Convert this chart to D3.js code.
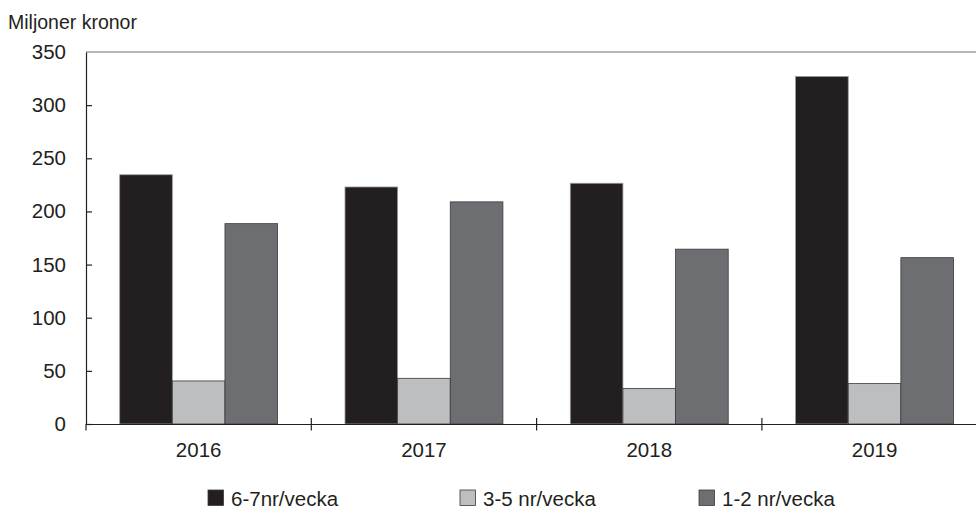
<!DOCTYPE html>
<html>
<head>
<meta charset="utf-8">
<script src="https://cdn.jsdelivr.net/npm/d3@7"></script>
<style>
  html, body { margin: 0; padding: 0; background: #fff; }
  svg { display: block; font-family: "Liberation Sans", Arial, sans-serif; }
</style>
</head>
<body>
<svg id="chart" width="976" height="509"></svg>
<script>
const years = ["2016", "2017", "2018", "2019"];
const seriesNames = ["6-7nr/vecka", "3-5 nr/vecka", "1-2 nr/vecka"];
const s67 = [234.5, 223, 226.5, 327];
const s35 = [40.5, 43, 33.5, 38];
const s12 = [188.5, 209, 164.5, 156.5];
const yTicks = [0, 50, 100, 150, 200, 250, 300, 350];
const colors = ["#231f20", "#bcbec0", "#6d6e71"];
const yTitle = "Miljoner kronor";

(function () {
const seriesValues = [s67, s35, s12];
const data = years.map((yr, i) => ({ year: yr, vals: seriesNames.map((s, j) => ({ key: s, idx: j, v: seriesValues[j][i] })) }));

const svg = d3.select("#chart");
const mLeft = 86, mTop = 52, mBottom = 424, mRight = 987.2;
const ink = "#231f20";

const x = d3.scaleBand().domain(years).range([mLeft, mRight]).paddingInner(0).paddingOuter(0);
const xs = d3.scaleBand().domain(seriesNames).range([0, x.bandwidth()]).paddingInner(0).paddingOuter(0.64);
const y = d3.scaleLinear().domain([0, 350]).range([mBottom, mTop]);

// top border line at 350
svg.append("line")
  .attr("x1", mLeft).attr("x2", 976)
  .attr("y1", y(350)).attr("y2", y(350))
  .attr("stroke", "#6d6e71").attr("stroke-width", 1.2);

// bars
const g = svg.append("g");
g.selectAll("g.grp").data(data).join("g")
  .attr("class", "grp")
  .attr("transform", d => `translate(${x(d.year)},0)`)
  .selectAll("rect").data(d => d.vals).join("rect")
  .attr("x", d => xs(d.key))
  .attr("width", xs.bandwidth())
  .attr("y", d => y(d.v))
  .attr("height", d => y(0) - y(d.v))
  .attr("fill", d => colors[d.idx])
  .attr("stroke", d => d.idx === 0 ? "#9a9a9a" : "#3a3a3c")
  .attr("stroke-width", 0.8);

// y axis
const yAxis = d3.axisLeft(y).tickValues(yTicks).tickSizeInner(-6).tickSizeOuter(0).tickPadding(20);
const ya = svg.append("g").attr("transform", `translate(${mLeft},0)`).call(yAxis);
ya.select(".domain").attr("stroke", ink).attr("stroke-width", 1.2);
ya.selectAll(".tick line").attr("stroke", ink).attr("stroke-width", 1.2);
ya.selectAll(".tick text").attr("font-size", 20.5).attr("fill", ink).attr("font-family", "Liberation Sans, Arial, sans-serif");
ya.selectAll(".tick").filter(d => d === 350).select("line").remove();

// x axis
const xAxis = d3.axisBottom(x).tickSize(0).tickPadding(18);
const xa = svg.append("g").attr("transform", `translate(0,${mBottom})`).call(xAxis);
xa.select(".domain").attr("stroke", ink).attr("stroke-width", 1.2);
xa.selectAll(".tick text").attr("font-size", 20.5).attr("fill", ink).attr("font-family", "Liberation Sans, Arial, sans-serif");

// x boundary ticks
const bounds = years.map(yr => x(yr));
svg.append("g").selectAll("line").data(bounds).join("line")
  .attr("x1", d => d).attr("x2", d => d)
  .attr("y1", (d, i) => i === 0 ? mBottom : mBottom - 6)
  .attr("y2", mBottom + 6.5)
  .attr("stroke", ink).attr("stroke-width", 1.2);

// y title
svg.append("text").attr("x", 8).attr("y", 29).attr("font-size", 19.5).attr("fill", ink).text(yTitle);

// legend
const legendX = [208, 460, 699];
const lg = svg.append("g").selectAll("g").data(seriesNames).join("g")
  .attr("transform", (d, i) => `translate(${legendX[i]},490)`);
lg.append("rect").attr("width", 15.5).attr("height", 15.5)
  .attr("fill", (d, i) => colors[i]).attr("stroke", "#3a3a3c").attr("stroke-width", 0.8);
lg.append("text").attr("x", 23).attr("y", 16).attr("font-size", 20.5).attr("fill", ink).text(d => d);
})();
</script>
</body>
</html>
